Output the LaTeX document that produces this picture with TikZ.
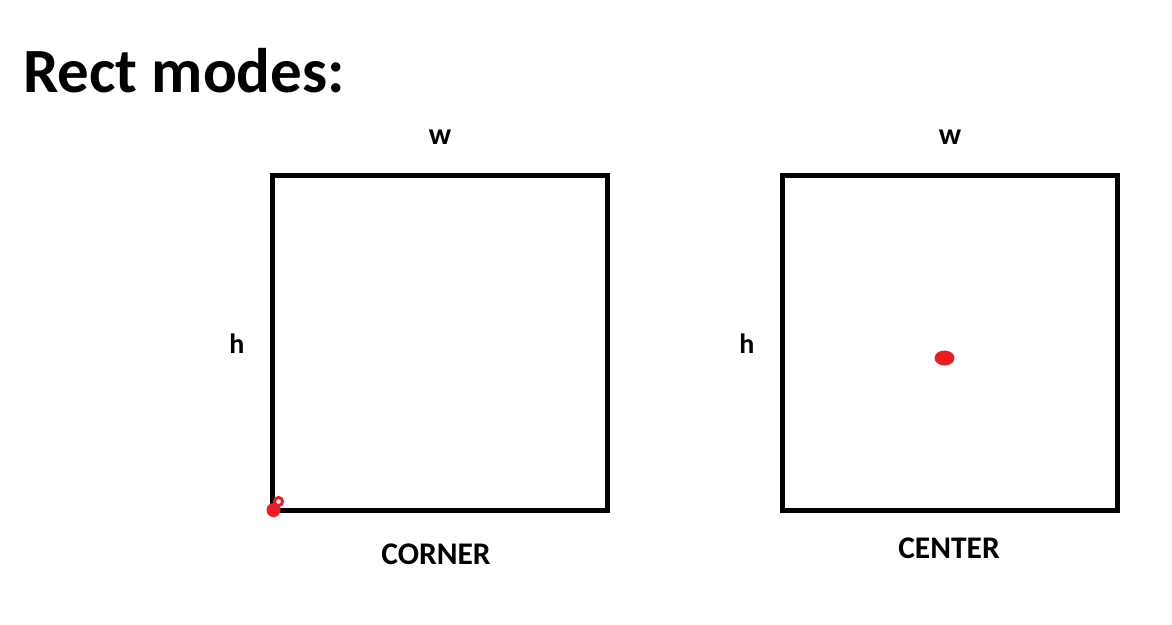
\documentclass[tikz,border=0pt]{standalone}
\usepackage{fontspec}
\setmainfont{Carlito}
\usepackage{tikz}
\usetikzlibrary{positioning}
\definecolor{paintred}{HTML}{ED1C24}

\tikzset{
	modebox/.style={draw,line width=5pt,minimum width=335pt,minimum height=335pt,inner sep=0pt},
	sidelabel/.style={inner sep=0pt,font=\fontsize{30}{30}\selectfont\bfseries},
	hlabel/.style={inner sep=0pt,font=\fontsize{28}{28}\selectfont\bfseries},
	modename/.style={inner sep=0pt,font=\fontsize{31.5}{31.5}\selectfont\bfseries},
	reddot/.style={fill=paintred,draw=none}
}

\begin{document}
\begin{tikzpicture}[x=1pt,y=-1pt]
	\useasboundingbox (0,0) rectangle (1172,624);
	
	%TITLE
	\node[anchor=base west,inner sep=0pt,font=\fontsize{63}{63}\selectfont\bfseries] (title) at (23,92) {Rect modes:};
	
	%CORNER MODE
	\node[modebox] (cornerbox) at (440,342.75) {};
	\node[sidelabel] (cornerw) at (440,137) {w};
	\node[hlabel] (cornerh) at (237,344) {h};
	\node[modename] (cornername) at (436,554) {CORNER};
	\fill[reddot] (273.5,510) circle (7);
	\draw[paintred,line width=3pt] (278.5,501.5) circle (4);
	
	%CENTER MODE
	\node[modebox] (centerbox) at (950,342.75) {};
	\node[sidelabel] (centerw) at (950,137) {w};
	\node[hlabel] (centerh) at (747,344) {h};
	\node[modename] (centername) at (949,548) {CENTER};
	\fill[reddot] (944.5,358) ellipse (10 and 7.5);
\end{tikzpicture}
\end{document}
